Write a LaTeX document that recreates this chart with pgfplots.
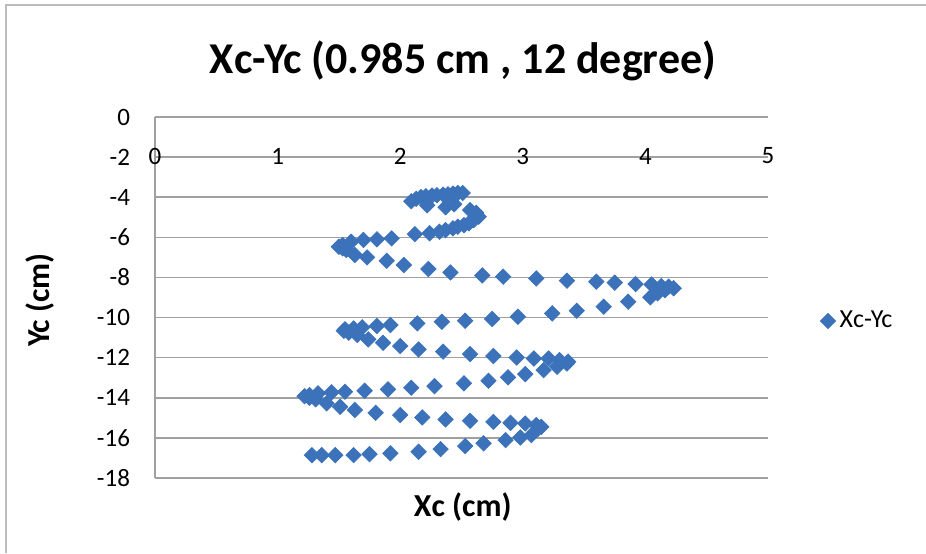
\documentclass[border=0pt]{standalone}
\usepackage{pgfplots}
\pgfplotsset{compat=1.18}
\usepackage{fontspec}
\setmainfont{Carlito}
\definecolor{serieblue}{RGB}{60,114,186}
\definecolor{gridgray}{RGB}{160,160,160}
\begin{document}
\begin{tikzpicture}
\path[use as bounding box] (-77.5pt,-37.5pt) rectangle (385.5pt,239pt);
% chart area frame
\draw[gridgray!70, line width=0.9pt] (-74.5pt,-37.5pt) -- (-74.5pt,236.5pt) -- (385.5pt,236.5pt);
\node[anchor=base, font=\bfseries\fontsize{22}{26}\selectfont] at (154pt,202.5pt) {Xc-Yc (0.985 cm , 12 degree)};
\begin{axis}[
  at={(0pt,0pt)}, anchor=south west,
  scale only axis, width=306.5pt, height=180.5pt,
  xmin=0, xmax=5, ymin=-18, ymax=0,
  axis y line*=left, axis x line*=top,
  x axis line style={draw=none},
  y axis line style={gridgray, line width=0.75pt},
  xtick={0,1,2,3,4,5}, xticklabels={0,1,2,3,4,5},
  ytick={-18,-16,-14,-12,-10,-8,-6,-4,-2,0},
  yticklabels={-18,-16,-14,-12,-10,-8,-6,-4,-2,0},
  major tick length=0pt,
  ymajorgrids, grid style={gridgray, line width=0.75pt},
  xticklabel style={anchor=center, yshift=-19.5pt, font=\fontsize{12.5}{14}\selectfont},
  yticklabel style={anchor=east, xshift=-9pt, font=\fontsize{12.5}{14}\selectfont},
  xlabel={Xc (cm)}, ylabel={Yc (cm)},
  xlabel style={at={(axis description cs:0.502,-0.08)}, anchor=center, font=\bfseries\fontsize{16}{19}\selectfont},
  ylabel style={at={(axis description cs:-0.188,0.493)}, anchor=center, font=\bfseries\fontsize{16}{19}\selectfont},
  legend style={at={(axis description cs:1.075,0.435)}, anchor=west, draw=none, fill=none, font=\fontsize{13}{15}\selectfont},
  legend cell align=left,
  clip=false,
]
\addplot[only marks, color=serieblue, mark=square*, mark size=2.7pt,
  mark options={rotate=45, fill=serieblue, draw=serieblue}] table {
x y
2.09 -4.20
2.13 -4.08
2.17 -3.99
2.21 -3.95
2.26 -3.92
2.30 -3.90
2.35 -3.87
2.39 -3.85
2.43 -3.82
2.47 -3.79
2.51 -3.79
2.22 -4.40
2.37 -4.50
2.44 -4.35
2.57 -4.64
2.62 -4.78
2.64 -4.97
2.60 -5.14
2.56 -5.30
2.52 -5.39
2.47 -5.47
2.43 -5.55
2.37 -5.64
2.32 -5.72
2.24 -5.80
2.12 -5.84
1.93 -6.05
1.81 -6.10
1.70 -6.13
1.60 -6.22
1.53 -6.38
1.50 -6.47
1.53 -6.55
1.56 -6.63
1.63 -6.88
1.73 -7.00
1.89 -7.17
2.03 -7.38
2.23 -7.58
2.41 -7.75
2.67 -7.90
2.84 -7.96
3.11 -8.05
3.36 -8.16
3.60 -8.21
3.75 -8.26
3.92 -8.33
4.05 -8.35
4.13 -8.43
4.19 -8.46
4.23 -8.54
4.16 -8.63
4.10 -8.79
4.04 -8.99
3.86 -9.21
3.66 -9.46
3.44 -9.66
3.24 -9.79
2.96 -9.96
2.75 -10.07
2.53 -10.16
2.34 -10.21
2.14 -10.29
1.92 -10.37
1.81 -10.42
1.69 -10.49
1.62 -10.54
1.55 -10.59
1.54 -10.66
1.58 -10.75
1.65 -10.87
1.74 -11.09
1.86 -11.26
2.00 -11.42
2.15 -11.59
2.35 -11.70
2.57 -11.82
2.76 -11.92
2.95 -11.99
3.09 -12.04
3.21 -12.04
3.30 -12.12
3.37 -12.20
3.36 -12.29
3.28 -12.45
3.17 -12.62
3.02 -12.82
2.88 -12.98
2.72 -13.15
2.52 -13.28
2.28 -13.42
2.09 -13.50
1.90 -13.58
1.71 -13.65
1.55 -13.70
1.44 -13.73
1.33 -13.78
1.26 -13.87
1.22 -13.92
1.26 -14.00
1.31 -14.08
1.40 -14.28
1.51 -14.45
1.63 -14.61
1.80 -14.75
2.00 -14.86
2.18 -14.98
2.37 -15.08
2.57 -15.15
2.76 -15.20
2.90 -15.25
3.02 -15.28
3.11 -15.36
3.15 -15.45
3.12 -15.57
3.07 -15.86
2.98 -15.98
2.86 -16.11
2.68 -16.27
2.53 -16.41
2.33 -16.56
2.15 -16.69
1.92 -16.77
1.75 -16.81
1.62 -16.86
1.47 -16.86
1.36 -16.86
1.28 -16.86
};
\addlegendentry{Xc-Yc}
\end{axis}
\end{tikzpicture}
\end{document}
